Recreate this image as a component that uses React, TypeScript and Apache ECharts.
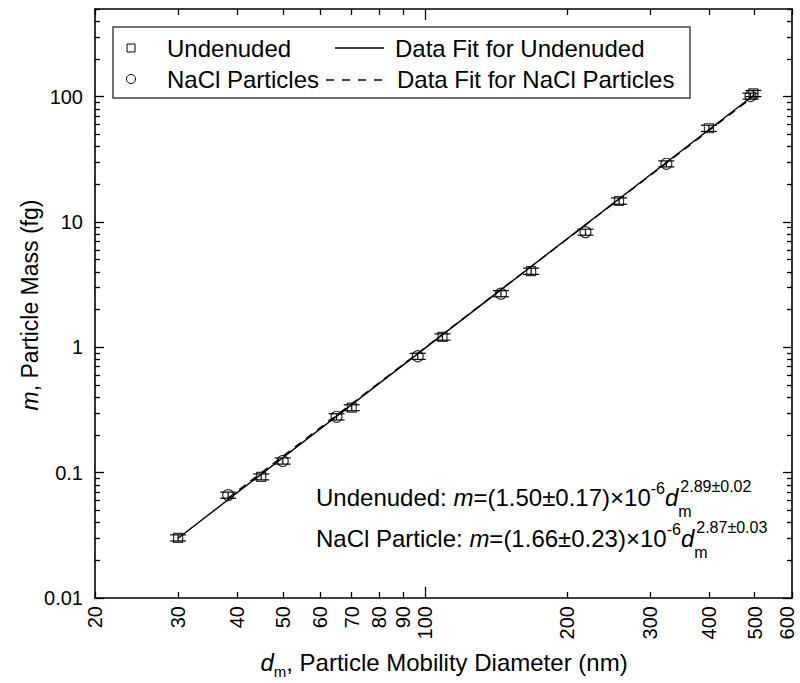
import React, { useEffect, useRef } from "react";
import * as echarts from "echarts";

// ---- data ----
const undenudedD = [30, 45, 70, 109, 168, 258, 400, 497];
const undenudedM = [0.0302, 0.0926, 0.33, 1.21, 4.05, 14.7, 55.9, 106];
const undenudedErr = [0.0017, 0.005, 0.018, 0.07, 0.23, 0.85, 3.2, 6];

const naclD = [38.3, 50, 65, 96.6, 145, 219, 325, 490];
const naclM = [0.0662, 0.124, 0.279, 0.848, 2.68, 8.3, 29.1, 101];
const naclErr = [0.0037, 0.007, 0.016, 0.048, 0.15, 0.46, 1.6, 5.6];

const fitUndenudedD = [30, 500];
const fitUndenudedM = [0.03, 104];
const fitNaclD = [38.3, 490];
const fitNaclM = [0.0626, 96];

const xLabelValues = [20, 30, 40, 50, 60, 70, 80, 90, 100, 200, 300, 400, 500, 600];
const xShortTicks = [20, 30, 40, 50, 60, 70, 80, 90, 200, 300, 400, 500, 600];
const xLongTicks = [100];
const yMajorTicks = [0.01, 0.1, 1, 10, 100];
const yMajorLabels = ["0.01", "0.1", "1", "10", "100"];
const yMinorTicks = [
  0.02, 0.03, 0.04, 0.05, 0.06, 0.07, 0.08, 0.09,
  0.2, 0.3, 0.4, 0.5, 0.6, 0.7, 0.8, 0.9,
  2, 3, 4, 5, 6, 7, 8, 9,
  20, 30, 40, 50, 60, 70, 80, 90,
  200, 300, 400, 500,
];

const eqUndenuded = { label: "Undenuded: ", coef: "=(1.50±0.17)×10", exp: "2.89±0.02" };
const eqNacl = { label: "NaCl Particle: ", coef: "=(1.66±0.23)×10", exp: "2.87±0.03" };

const FONT = "'Liberation Sans', Arial, Helvetica, sans-serif";
const BLACK = "#000";
const EQ_SIZE = 24;
const SUP_SIZE = 16;

function measure(text: string, size: number, italic = false) {
  const c = document.createElement("canvas").getContext("2d");
  if (!c) return text.length * size * 0.55;
  c.font = `${italic ? "italic " : ""}${size}px ${FONT}`;
  return c.measureText(text).width;
}

function xAxisDef(position: "bottom" | "top", ticks: number[], len: number, showLine: boolean, labels: boolean) {
  const lastLabel = xLabelValues[xLabelValues.length - 1];
  return {
    type: "log",
    logBase: 10,
    min: 20,
    max: 600,
    position,
    axisLine: { show: showLine, onZero: false, lineStyle: { color: BLACK, width: 1.6 } },
    axisTick: { show: true, inside: true, length: len, customValues: ticks, lineStyle: { color: BLACK, width: 1.3 } },
    axisLabel: labels
      ? {
          show: true,
          customValues: xLabelValues,
          rotate: 90,
          margin: 8,
          fontSize: 20,
          fontFamily: FONT,
          color: BLACK,
          formatter: (v: number) => {
            const s = String(+Number(v).toPrecision(6));
            return Math.abs(v - lastLabel) < 1e-6 ? `{edge|${s}}` : s;
          },
          rich: {
            edge: { fontSize: 20, fontFamily: FONT, color: BLACK, padding: [0, 0, 10, 0] },
          },
        }
      : { show: false },
    splitLine: { show: false },
    minorTick: { show: false },
    minorSplitLine: { show: false },
  };
}

function yAxisDef(position: "left" | "right", ticks: number[], len: number, showLine: boolean, labels: boolean) {
  return {
    type: "log",
    logBase: 10,
    min: 0.01,
    max: 500,
    position,
    axisLine: { show: showLine, onZero: false, lineStyle: { color: BLACK, width: 1.6 } },
    axisTick: { show: true, inside: true, length: len, customValues: ticks, lineStyle: { color: BLACK, width: 1.3 } },
    axisLabel: labels
      ? {
          show: true,
          customValues: yMajorTicks,
          margin: 12,
          fontSize: 20,
          fontFamily: FONT,
          color: BLACK,
          formatter: (v: number) => {
            const i = yMajorTicks.findIndex((t) => Math.abs(Math.log10(t) - Math.log10(v)) < 1e-6);
            return i >= 0 ? yMajorLabels[i] : String(v);
          },
        }
      : { show: false },
    splitLine: { show: false },
    minorTick: { show: false },
    minorSplitLine: { show: false },
  };
}

function errorBars(d: number[], m: number[], e: number[]) {
  return d.map((x, i) => [x, m[i], m[i] - e[i], m[i] + e[i]]);
}

const errRender = (params: any, api: any) => {
  const x = api.value(0);
  const lo = api.coord([x, api.value(2)]);
  const hi = api.coord([x, api.value(3)]);
  const hw = 8;
  const st = { stroke: BLACK, lineWidth: 1.2, fill: "none" };
  return {
    type: "group",
    children: [
      { type: "line", shape: { x1: lo[0], y1: lo[1], x2: hi[0], y2: hi[1] }, style: st },
      { type: "line", shape: { x1: lo[0] - hw, y1: lo[1], x2: lo[0] + hw, y2: lo[1] }, style: st },
      { type: "line", shape: { x1: hi[0] - hw, y1: hi[1], x2: hi[0] + hw, y2: hi[1] }, style: st },
    ],
  };
};

function equation(eq: { label: string; coef: string; exp: string }, x: number, y: number) {
  const rich = {
    i: { fontSize: EQ_SIZE, fontFamily: FONT, fontStyle: "italic", color: BLACK },
    sup: { fontSize: SUP_SIZE, fontFamily: FONT, color: BLACK, padding: [0, 0, 18, 0] },
  };
  const endX =
    x +
    measure(eq.label, EQ_SIZE) +
    measure("m", EQ_SIZE, true) +
    measure(eq.coef, EQ_SIZE) +
    measure("-6", SUP_SIZE) +
    measure("d", EQ_SIZE, true);
  const small = { fontSize: SUP_SIZE, fontFamily: FONT, fill: BLACK, verticalAlign: "middle" as const };
  return [
    {
      type: "text", x, y,
      style: { fontSize: EQ_SIZE, fontFamily: FONT, fill: BLACK, verticalAlign: "middle", text: `${eq.label}{i|m}${eq.coef}{sup|-6}{i|d}`, rich },
      z: 11,
    },
    { type: "text", x: endX + 2, y: y - 11, style: { ...small, text: eq.exp }, z: 11 },
    { type: "text", x: endX, y: y + 14, style: { ...small, text: "m" }, z: 11 },
  ];
}

export default function App() {
  const ref = useRef<HTMLDivElement>(null);
  useEffect(() => {
    if (!ref.current) return;
    const chart = echarts.init(ref.current, undefined, { renderer: "svg" });
    const legendText = { fontSize: 24, fontFamily: FONT, fill: BLACK, verticalAlign: "middle" as const };
    const option: any = {
      animation: false,
      backgroundColor: "#fff",
      grid: { left: 95, top: 9, right: 8, bottom: 85, containLabel: false, outerBoundsMode: "none" },
      xAxis: [
        xAxisDef("bottom", xShortTicks, 6, true, true),
        xAxisDef("bottom", xLongTicks, 11, false, false),
        xAxisDef("top", xShortTicks, 6, true, false),
        xAxisDef("top", xLongTicks, 11, false, false),
      ],
      yAxis: [
        yAxisDef("left", yMajorTicks, 9, true, true),
        yAxisDef("left", yMinorTicks, 5, false, false),
        yAxisDef("right", yMajorTicks, 9, true, false),
        yAxisDef("right", yMinorTicks, 5, false, false),
      ],
      series: [
        {
          name: "Data Fit for Undenuded",
          type: "line",
          data: fitUndenudedD.map((d, i) => [d, fitUndenudedM[i]]),
          symbol: "none",
          lineStyle: { color: BLACK, width: 1.4, type: "solid" },
          z: 2,
        },
        {
          name: "Data Fit for NaCl Particles",
          type: "line",
          data: fitNaclD.map((d, i) => [d, fitNaclM[i]]),
          symbol: "none",
          lineStyle: { color: BLACK, width: 1.4, type: [8, 6] },
          z: 2,
        },
        {
          name: "Undenuded error",
          type: "custom",
          renderItem: errRender,
          encode: { x: 0, y: [2, 3] },
          data: errorBars(undenudedD, undenudedM, undenudedErr),
          z: 3,
        },
        {
          name: "NaCl error",
          type: "custom",
          renderItem: errRender,
          encode: { x: 0, y: [2, 3] },
          data: errorBars(naclD, naclM, naclErr),
          z: 3,
        },
        {
          name: "Undenuded",
          type: "scatter",
          symbol: "rect",
          symbolSize: 9,
          data: undenudedD.map((d, i) => [d, undenudedM[i]]),
          itemStyle: { color: "transparent", borderColor: BLACK, borderWidth: 1.2 },
          z: 4,
        },
        {
          name: "NaCl Particles",
          type: "scatter",
          symbol: "circle",
          symbolSize: 11,
          data: naclD.map((d, i) => [d, naclM[i]]),
          itemStyle: { color: "transparent", borderColor: BLACK, borderWidth: 1.2 },
          z: 4,
        },
      ],
      graphic: [
        // legend box
        { type: "rect", shape: { x: 113, y: 27, width: 577, height: 71 }, style: { fill: "#fff", stroke: "#444", lineWidth: 1.5 }, z: 10 },
        { type: "rect", shape: { x: 127, y: 44, width: 8, height: 8 }, style: { fill: "none", stroke: BLACK, lineWidth: 1 }, z: 11 },
        { type: "circle", shape: { cx: 131, cy: 79, r: 4.5 }, style: { fill: "none", stroke: BLACK, lineWidth: 1 }, z: 11 },
        { type: "text", x: 167, y: 48, style: { ...legendText, text: "Undenuded" }, z: 11 },
        { type: "text", x: 167, y: 79, style: { ...legendText, text: "NaCl Particles" }, z: 11 },
        { type: "line", shape: { x1: 335, y1: 48, x2: 384, y2: 48 }, style: { stroke: BLACK, lineWidth: 1.4 }, z: 11 },
        { type: "line", shape: { x1: 326, y1: 80, x2: 383, y2: 80 }, style: { stroke: BLACK, lineWidth: 1.4, lineDash: [8, 8] }, z: 11 },
        { type: "text", x: 395, y: 48, style: { ...legendText, text: "Data Fit for Undenuded" }, z: 11 },
        { type: "text", x: 397, y: 79, style: { ...legendText, text: "Data Fit for NaCl Particles" }, z: 11 },
        // equations
        ...equation(eqUndenuded, 316, 497),
        ...equation(eqNacl, 316, 538),
        // axis titles
        {
          type: "text", x: 444, y: 662,
          style: {
            text: "{i|d}{sub|m}{n|, Particle Mobility Diameter (nm)}",
            align: "center", verticalAlign: "middle",
            rich: {
              i: { fontSize: 24, fontFamily: FONT, fontStyle: "italic", color: BLACK },
              sub: { fontSize: 15, fontFamily: FONT, color: BLACK, padding: [18, 0, 0, 0] },
              n: { fontSize: 24, fontFamily: FONT, color: BLACK },
            },
          },
          z: 11,
        },
        {
          type: "text", x: 30, y: 305, rotation: Math.PI / 2,
          style: {
            text: "{i|m}{n|, Particle Mass (fg)}",
            align: "center", verticalAlign: "middle",
            rich: {
              i: { fontSize: 23, fontFamily: FONT, fontStyle: "italic", color: BLACK },
              n: { fontSize: 23, fontFamily: FONT, color: BLACK },
            },
          },
          z: 11,
        },
      ],
    };
    chart.setOption(option);
    return () => chart.dispose();
  }, []);
  return <div ref={ref} style={{ position: "absolute", left: 0, top: 0, width: 800, height: 683 }} />;
}
